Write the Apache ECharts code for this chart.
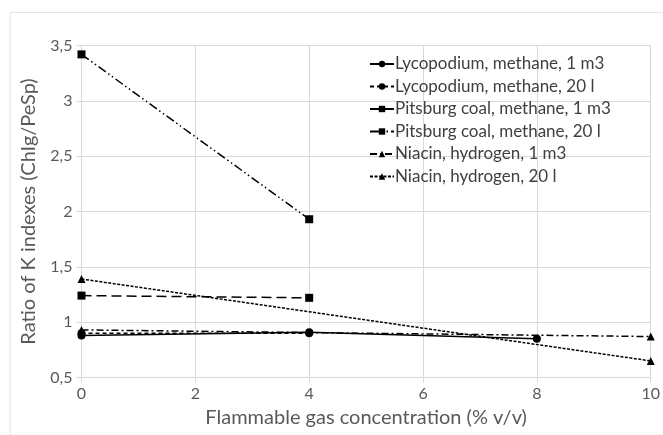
<!DOCTYPE html>
<html>
<head>
<meta charset="utf-8">
<script src="https://cdn.jsdelivr.net/npm/echarts@6/dist/echarts.min.js"></script>
<style>
  html, body { margin: 0; padding: 0; background: #fff; }
  #chart { width: 663px; height: 435px; }
</style>
</head>
<body>
<div id="chart"></div>
<script>
// Flammable gas concentration (% v/v) and K-index ratios per dust / gas / vessel
const lycoMethane1m3 = [[0, 0.88], [4, 0.91], [8, 0.85]];
const lycoMethane20l = [[0, 0.90], [4, 0.90]];
const pitsMethane1m3 = [[0, 1.24], [4, 1.22]];
const pitsMethane20l = [[0, 3.42], [4, 1.93]];
const niacinH2_1m3 = [[0, 0.93], [10, 0.87]];
const niacinH2_20l = [[0, 1.39], [10, 0.65]];

const seriesNames = [
  'Lycopodium, methane, 1 m3',
  'Lycopodium, methane, 20 l',
  'Pitsburg coal, methane, 1 m3',
  'Pitsburg coal, methane, 20 l',
  'Niacin, hydrogen, 1 m3',
  'Niacin, hydrogen, 20 l'
];

const xTicks = { min: 0, max: 10, interval: 2 };
const yTicks = { min: 0.5, max: 3.5, interval: 0.5 };

const FONT = 'Lato, "Open Sans", sans-serif';
const gridColor = '#d9d9d9';
const textColor = '#595959';

function line(name, data, symbol, dash, size) {
  return {
    name: name,
    type: 'line',
    data: data,
    symbol: symbol,
    symbolSize: size,
    showSymbol: true,
    lineStyle: { color: '#000', width: 1.5, type: dash },
    itemStyle: { color: '#000' },
    emphasis: { disabled: true },
    animation: false
  };
}

const chart = echarts.init(document.getElementById('chart'), null, { renderer: 'canvas' });

chart.setOption({
  backgroundColor: '#fff',
  animation: false,
  graphic: [{
    type: 'rect',
    shape: { x: 10, y: 12.5, width: 700, height: 480 },
    style: { fill: 'none', stroke: '#e3e3e3', lineWidth: 1 },
    silent: true,
    z: -10
  }],
  grid: { left: 81.5, right: 10.5, top: 45.5, bottom: 57.5 },
  legend: {
    orient: 'vertical',
    left: 364,
    top: 50,
    itemWidth: 24,
    itemHeight: 8,
    itemGap: 4.5,
    data: seriesNames,
    textStyle: { fontFamily: FONT, fontSize: 17, lineHeight: 18, color: '#404040', padding: [0, 0, 0, -4] },
    inactiveColor: '#000'
  },
  xAxis: {
    type: 'value',
    min: xTicks.min, max: xTicks.max, interval: xTicks.interval,
    name: 'Flammable gas concentration (% v/v)',
    nameLocation: 'middle',
    nameGap: 30,
    nameTextStyle: { fontFamily: FONT, fontSize: 20, color: textColor },
    axisLine: { show: true, lineStyle: { color: gridColor, width: 1 } },
    axisTick: { show: true, length: 5, lineStyle: { color: gridColor } },
    axisLabel: { fontFamily: FONT, fontSize: 16, color: textColor, margin: 8 },
    splitLine: { show: true, lineStyle: { color: gridColor, width: 1 } }
  },
  yAxis: {
    type: 'value',
    min: yTicks.min, max: yTicks.max, interval: yTicks.interval,
    name: 'Ratio of K indexes (ChIg/PeSp)',
    nameLocation: 'middle',
    nameGap: 43,
    nameTextStyle: { fontFamily: FONT, fontSize: 20, color: textColor },
    axisLine: { show: true, lineStyle: { color: gridColor, width: 1 } },
    axisTick: { show: true, length: 5, lineStyle: { color: gridColor } },
    axisLabel: {
      fontFamily: FONT, fontSize: 16, color: textColor, margin: 9,
      formatter: v => String(v).replace('.', ',')
    },
    splitLine: { show: true, lineStyle: { color: gridColor, width: 1 } }
  },
  series: [
    line(seriesNames[0], lycoMethane1m3, 'circle', 'solid', 8),
    line(seriesNames[1], lycoMethane20l, 'circle', [4, 3], 8),
    line(seriesNames[2], pitsMethane1m3, 'rect', [10, 5], 8),
    line(seriesNames[3], pitsMethane20l, 'rect', [9, 3, 1.5, 3, 1.5, 3], 8),
    line(seriesNames[4], niacinH2_1m3, 'triangle', [7, 3, 2, 3], 8),
    line(seriesNames[5], niacinH2_20l, 'triangle', [3, 1.5], 8)
  ]
});
</script>
</body>
</html>
